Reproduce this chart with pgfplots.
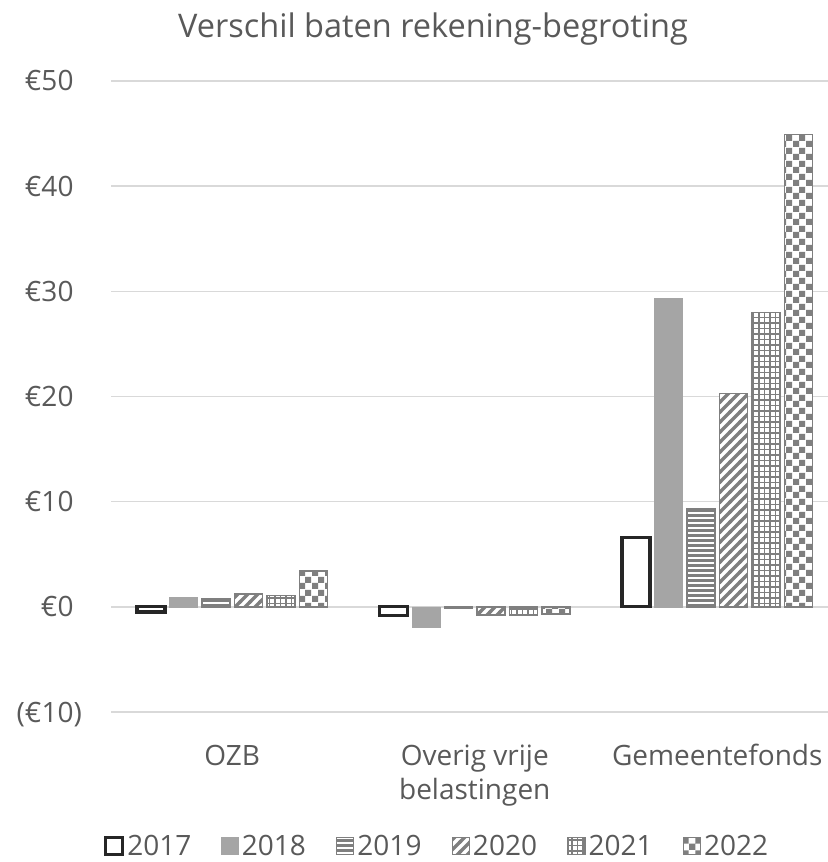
\documentclass[border=0pt]{standalone}
\usepackage{fontspec}
\setmainfont{Open Sans}
\usepackage{pgfplots}
\pgfplotsset{compat=1.18}
\usetikzlibrary{patterns}

\definecolor{txt}{HTML}{595959}
\definecolor{grd}{HTML}{D9D9D9}
\definecolor{pat}{HTML}{7F7F7F}
\definecolor{dark}{HTML}{262626}
\definecolor{solidg}{HTML}{A5A5A5}

\pgfdeclarepatternformonly{myhlines}{\pgfpoint{-1bp}{-1bp}}{\pgfpoint{6bp}{6bp}}{\pgfpoint{5bp}{5bp}}{%
 \pgfsetlinewidth{2.5bp}\pgfpathmoveto{\pgfpoint{-1bp}{1.25bp}}\pgfpathlineto{\pgfpoint{6bp}{1.25bp}}\pgfusepath{stroke}}
\pgfdeclarepatternformonly{mydiag}{\pgfpoint{-2bp}{-2bp}}{\pgfpoint{12bp}{12bp}}{\pgfpoint{10bp}{10bp}}{%
 \pgfsetlinewidth{3.2bp}\pgfpathmoveto{\pgfpoint{-1bp}{-1bp}}\pgfpathlineto{\pgfpoint{11bp}{11bp}}\pgfusepath{stroke}}
\pgfdeclarepatternformonly{mygrid}{\pgfpoint{-1bp}{-1bp}}{\pgfpoint{6.5bp}{6.5bp}}{\pgfpoint{5.5bp}{5.5bp}}{%
 \pgfsetlinewidth{1.1bp}\pgfpathmoveto{\pgfpoint{0bp}{-0.5bp}}\pgfpathlineto{\pgfpoint{0bp}{6bp}}%
 \pgfpathmoveto{\pgfpoint{-0.5bp}{0bp}}\pgfpathlineto{\pgfpoint{6bp}{0bp}}\pgfusepath{stroke}}
\pgfdeclarepatternformonly{mychecker}{\pgfpoint{0bp}{0bp}}{\pgfpoint{13bp}{13bp}}{\pgfpoint{13bp}{13bp}}{%
 \pgfpathrectangle{\pgfpointorigin}{\pgfpoint{6.5bp}{6.5bp}}%
 \pgfpathrectangle{\pgfpoint{6.5bp}{6.5bp}}{\pgfpoint{6.5bp}{6.5bp}}\pgfusepath{fill}}

\begin{document}
\begin{tikzpicture}
\begin{axis}[
 at={(111bp,150bp)}, anchor=south west,
 scale only axis, width=727.5bp, height=631bp,
 xmin=-0.5, xmax=2.5, ymin=-10, ymax=50,
 ybar=4.5bp, bar width=28bp,
 axis line style={draw=none}, major tick length=0pt,
 ymajorgrids, major grid style={draw=grd, line width=1.5bp},
 ytick={-10,0,10,20,30,40,50},
 yticklabels={(€10),€0\phantom{)},€10\phantom{)},€20\phantom{)},€30\phantom{)},€40\phantom{)},€50\phantom{)}},
 xtick={0,1,2},
 xticklabels={\strut OZB,{\strut Overig vrije\\belastingen},\strut Gemeentefonds},
 tick label style={font=\fontsize{28bp}{34bp}\selectfont, text=txt, inner sep=0pt},
 yticklabel style={anchor=base east, yshift=-10bp},
 yticklabel shift=29bp,
 xticklabel style={align=center, anchor=north},
 xticklabel shift=29bp,
 legend columns=6,
 legend style={at={(rel axis cs:0.449,-0.2125)}, anchor=center, draw=none, fill=none,
   font=\fontsize{28bp}{34bp}\selectfont, text=txt,
   /tikz/every even column/.append style={column sep=27bp},
   nodes={inner xsep=3bp, inner ysep=0pt}},
 legend image code/.code={\draw[#1] (0bp,-8.5bp) rectangle (17bp,8.5bp);},
 clip=false,
]
\addplot[draw=dark, line width=3.2bp, fill=white] coordinates {(0,-0.5) (1,-0.8) (2,6.6)};
\addplot[draw=solidg, line width=0.5bp, fill=solidg] coordinates {(0,0.9) (1,-1.9) (2,29.3)};
\addplot[draw=pat, line width=1.5bp, preaction={fill=white}, pattern=myhlines, pattern color=pat] coordinates {(0,0.8) (1,-0.1) (2,9.3)};
\addplot[draw=pat, line width=1.5bp, preaction={fill=white}, pattern=mydiag, pattern color=pat] coordinates {(0,1.2) (1,-0.8) (2,20.3)};
\addplot[draw=pat, line width=1.5bp, preaction={fill=white}, pattern=mygrid, pattern color=pat] coordinates {(0,1.1) (1,-0.8) (2,28.0)};
\addplot[draw=pat, line width=1.5bp, preaction={fill=white}, pattern=mychecker, pattern color=pat] coordinates {(0,3.4) (1,-0.7) (2,44.9)};
\legend{2017,2018,2019,2020,2021,2022}
\end{axis}
\node[font=\fontsize{32.5bp}{38bp}\selectfont, text=txt, anchor=base, inner sep=0pt] at (433bp,824bp) {Verschil baten rekening-begroting};
\pgfresetboundingbox
\path[use as bounding box] (0,0) rectangle (828bp,862bp);
\end{tikzpicture}
\end{document}
